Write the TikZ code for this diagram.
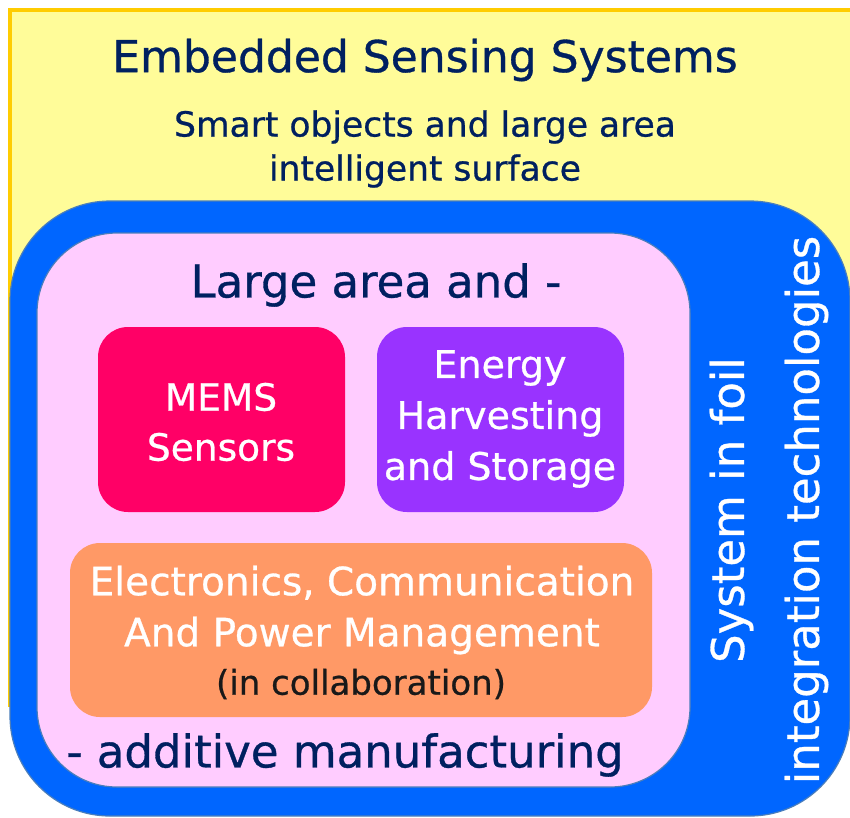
\documentclass[tikz,border=0pt]{standalone}
\usepackage{fontspec}
\setmainfont{DejaVu Sans}[FakeBold=0.7]
\definecolor{navy}{HTML}{002060}
\definecolor{ylw}{HTML}{FFFC99}
\definecolor{ylwb}{HTML}{FFCC00}
\definecolor{blu}{HTML}{0066FF}
\definecolor{edge}{HTML}{4A7EBB}
\definecolor{pnk}{HTML}{FFCCFF}
\definecolor{mems}{HTML}{FF0066}
\definecolor{purp}{HTML}{9933FF}
\definecolor{orng}{HTML}{FF9966}
\tikzset{
  inbox/.style={rounded corners=30pt},
  wtxt/.style={text=white,align=center,font=\fontsize{38}{51}\selectfont},
  ntxt/.style={text=navy,align=center},
}
\begin{document}
\begin{tikzpicture}[x=1pt,y=-1pt]
\useasboundingbox (0,0) rectangle (850,817);
\clip (0,0) rectangle (850,817);
\fill[white] (0,0) rectangle (850,817);
% yellow background
\draw[ylwb,line width=4pt,fill=ylw] (10,10) rectangle (900,705);
% blue box
\draw[edge,line width=1.2pt,fill=blu,rounded corners=100pt] (10,201) rectangle (850,816);
% pink box
\draw[edge,line width=1.2pt,fill=pnk,rounded corners=80pt] (37,233) rectangle (690,787);
% inner boxes
\fill[mems,inbox] (98,327) rectangle (345,512);
\fill[purp,inbox] (377,327) rectangle (624,512);
\fill[orng,inbox] (70,543) rectangle (652,717);
% texts
\node[ntxt,font=\fontsize{44}{50}\selectfont] (t1) at (425,60) {Embedded Sensing Systems};
\node[ntxt,font=\fontsize{34.5}{44}\selectfont] (t2) at (425,149) {Smart objects and large area\\intelligent surface};
\node[ntxt,font=\fontsize{45}{50}\selectfont] (t3) at (376,285) {Large area and -};
\node[ntxt,font=\fontsize{45}{50}\selectfont] (t4) at (345,755) {- additive manufacturing};
\node[wtxt,font=\fontsize{37.5}{50}\selectfont] (m) at (221,422) {MEMS\\Sensors};
\node[wtxt] (e) at (500,419) {Energy\\Harvesting\\and Storage};
\node[wtxt,font=\fontsize{39}{51}\selectfont] (o) at (362,610) {Electronics, Communication\\And Power Management};
\node[text=black!90,font=\fontsize{34}{40}\selectfont] (c) at (361,684) {(in collaboration)};
\node[wtxt,rotate=90,font=\fontsize{45}{75}\selectfont] (s) at (769,510) {System in foil\\integration technologies};
\end{tikzpicture}
\end{document}
